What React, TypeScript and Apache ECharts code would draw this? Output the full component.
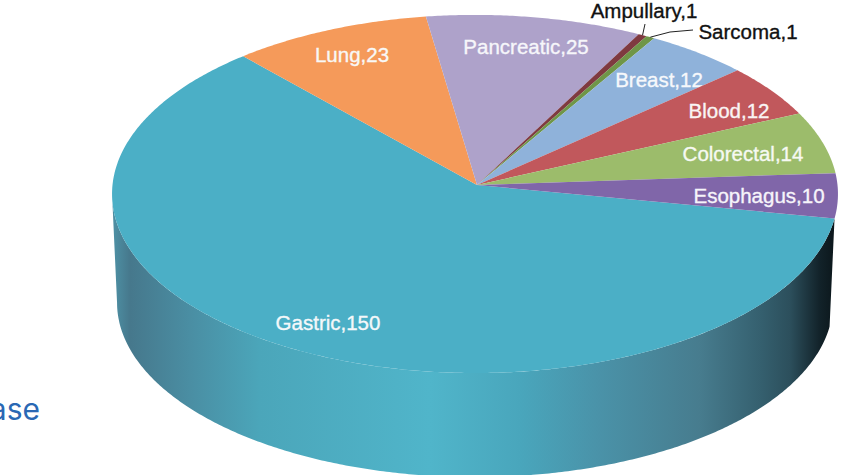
import React, { useEffect, useRef } from "react";
import * as echarts from "echarts";

const categories = ["Gastric", "Lung", "Pancreatic", "Ampullary", "Sarcoma", "Breast", "Blood", "Colorectal", "Esophagus"];
const values = [150, 23, 25, 1, 1, 12, 12, 14, 10];

const sliceColors = ["#4bafc6", "#f59a5a", "#aea2ca", "#7f3a40", "#6f9648", "#8fb2da", "#c1585c", "#9cbc6b", "#8066a9"];
const labelColors = ["#f4f8fa", "#f8f8f6", "#f6f6fa", "#111111", "#111111", "#f6f8fb", "#f9f4f4", "#f6f9f2", "#f6f4fa"];
const labelCentres: number[][] = [
  [328, 322], [352, 54], [526, 46], [644, 10], [748, 31], [659, 79], [729, 110], [743, 153], [759, 195],
];
const wallStops: [number, string][] = [
  [115, "#4d8ea2"], [130, "#46788c"], [190, "#4a8ea3"], [260, "#4ba6ba"], [430, "#50b5ca"], [520, "#49a6bc"],
  [600, "#4a92a8"], [700, "#477c8e"], [760, "#35606f"], [790, "#2c4f5c"], [820, "#122229"], [838, "#0a1418"],
];

const START_DEG = 10.7;
const PERSPECTIVE = 0.05;
const CX = 475;
const TOP = { cy: 185, a: 178.6, b: 362.5 };
const BOTTOM = { cy: 294, a: 174, b: 357.5 };
const WALL_END_DEG = 177.1;

function rim(deg: number, d: { cy: number; a: number; b: number }): number[] {
  const r = (deg * Math.PI) / 180;
  const s = 1 / (1 - PERSPECTIVE * Math.sin(r));
  return [CX + d.b * Math.cos(r) * s, d.cy + d.a * Math.sin(r) * s];
}

function arc(from: number, to: number, d: { cy: number; a: number; b: number }): number[][] {
  const n = Math.max(2, Math.ceil(Math.abs(to - from) * 2));
  const pts: number[][] = [];
  for (let i = 0; i <= n; i++) pts.push(rim(from + ((to - from) * i) / n, d));
  return pts;
}

const total = values.reduce((a, b) => a + b, 0);

export default function App() {
  const ref = useRef<HTMLDivElement>(null);

  useEffect(() => {
    document.body.style.margin = "0";
    document.body.style.overflow = "hidden";
    const chart = echarts.init(ref.current!, undefined, { renderer: "svg" });

    const renderItem = (params: any, api: any) => {
      const i = params.dataIndex;
      let before = 0;
      for (let k = 0; k < i; k++) before += values[k];
      const v = api.value(0);
      const a0 = START_DEG + (before / total) * 360;
      const a1 = a0 + (v / total) * 360;
      const children: any[] = [];

      if (a0 < WALL_END_DEG) {
        const end = Math.min(a1, WALL_END_DEG);
        const top = arc(a0, end, TOP);
        const bottom = arc(a0, end, BOTTOM).reverse();
        children.push({
          type: "polygon",
          shape: { points: [...top, ...bottom] },
          style: {
            fill: {
              type: "linear",
              x: 112,
              y: 0,
              x2: 838,
              y2: 0,
              global: true,
              colorStops: wallStops.map(([x, color]) => ({ offset: (x - 112) / 726, color })),
            },
          },
        });
      }

      children.push({
        type: "polygon",
        shape: { points: [[CX + 2, TOP.cy], ...arc(a0, a1, TOP)] },
        style: { fill: sliceColors[i] },
      });

      if (categories[i] === "Ampullary") {
        const p = rim((a0 + a1) / 2, TOP);
        children.push({
          type: "polyline",
          shape: { points: [p, [645, 24]] },
          style: { fill: "none", stroke: "#222222", lineWidth: 1 },
        });
      }
      if (categories[i] === "Sarcoma") {
        const p = rim((a0 + a1) / 2, TOP);
        children.push({
          type: "polyline",
          shape: { points: [p, [670, 32], [693, 30]] },
          style: { fill: "none", stroke: "#222222", lineWidth: 1 },
        });
      }

      children.push({
        type: "text",
        x: labelCentres[i][0],
        y: labelCentres[i][1],
        style: {
          text: `${categories[i]},${v}`,
          fill: labelColors[i],
          fontFamily: "Liberation Sans",
          fontSize: 20.5,
          align: "center",
          verticalAlign: "middle",
          stroke: labelColors[i],
          lineWidth: 0.35,
        },
      });

      return { type: "group", children };
    };

    chart.setOption({
      animation: false,
      backgroundColor: "#ffffff",
      series: [
        {
          type: "custom",
          coordinateSystem: "none",
          silent: true,
          renderItem,
          data: values.map((v) => [v]),
        },
      ],
      graphic: [
        {
          type: "text",
          x: 40,
          y: 409,
          style: {
            text: "ase",
            fill: "#2a68b4",
            fontFamily: "Inter",
            fontSize: 30,
            align: "right",
            verticalAlign: "middle",
          },
        },
      ],
    });

    return () => chart.dispose();
  }, []);

  return <div ref={ref} style={{ position: "absolute", left: 0, top: 0, width: 844, height: 475 }} />;
}
